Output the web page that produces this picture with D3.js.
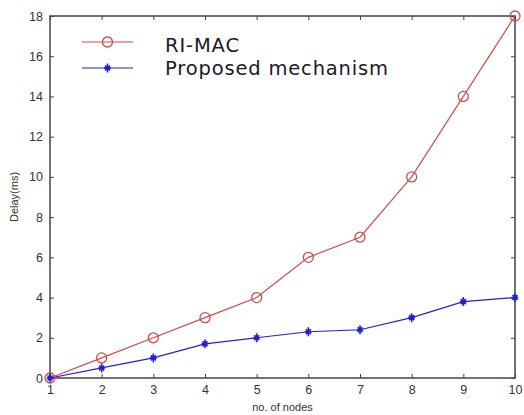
<!DOCTYPE html>
<html>
<head>
<meta charset="utf-8">
<script src="https://cdn.jsdelivr.net/npm/d3@7"></script>
<style>
  body { margin: 0; background: #fff; }
  svg { display: block; font-family: "Liberation Sans", Arial, sans-serif; }
</style>
</head>
<body>
<div id="chart"></div>
<script>
// data
const nodes = [1, 2, 3, 4, 5, 6, 7, 8, 9, 10];
const riMac = [0, 1, 2, 3, 4, 6, 7, 10, 14, 18];
const proposed = [0, 0.5, 1, 1.7, 2, 2.3, 2.4, 3, 3.8, 4];
const yTicks = [0, 2, 4, 6, 8, 10, 12, 14, 16, 18];
const seriesNames = ['RI-MAC', 'Proposed  mechanism'];

const W = 524, H = 415;
const margin = {top: 16, right: 9, bottom: 37, left: 50};
const axisColor = '#444';
const red = '#d24a4a';
const blue = '#2222cc';

const svg = d3.select('#chart').append('svg')
    .attr('width', W)
    .attr('height', H);

const x = d3.scaleLinear().domain([1, 10]).range([margin.left, W - margin.right]);
const y = d3.scaleLinear().domain([0, 18]).range([H - margin.bottom, margin.top]);

// frame
svg.append('rect')
    .attr('x', x(1)).attr('y', y(18))
    .attr('width', x(10) - x(1)).attr('height', y(0) - y(18))
    .attr('fill', 'none').attr('stroke', axisColor).attr('stroke-width', 1.5);

// axes with inward ticks (matlab style)
const styleAxis = g => {
    g.select('.domain').remove();
    g.selectAll('line').attr('stroke', axisColor);
    g.selectAll('text').attr('fill', '#333').style('font-size', '12.5px');
};

svg.append('g')
    .attr('transform', `translate(0,${y(0)})`)
    .call(d3.axisBottom(x).tickValues(nodes).tickSizeInner(-4).tickSizeOuter(0).tickPadding(7).tickFormat(d3.format('d')))
    .call(styleAxis);
svg.append('g')
    .attr('transform', `translate(0,${y(18)})`)
    .call(d3.axisTop(x).tickValues(nodes).tickSizeInner(-4).tickSizeOuter(0).tickFormat(''))
    .call(styleAxis);
svg.append('g')
    .attr('transform', `translate(${x(1)},0)`)
    .call(d3.axisLeft(y).tickValues(yTicks).tickSizeInner(-4).tickSizeOuter(0).tickPadding(7))
    .call(styleAxis);
svg.append('g')
    .attr('transform', `translate(${x(10)},0)`)
    .call(d3.axisRight(y).tickValues(yTicks).tickSizeInner(-4).tickSizeOuter(0).tickFormat(''))
    .call(styleAxis);

// axis titles
svg.append('text')
    .attr('x', (x(1) + x(10)) / 2).attr('y', H - 4)
    .attr('text-anchor', 'middle')
    .attr('fill', '#333').style('font-size', '11px')
    .text('no.  of nodes');
svg.append('text')
    .attr('transform', `translate(18,${(y(0) + y(18)) / 2}) rotate(-90)`)
    .attr('text-anchor', 'middle')
    .attr('fill', '#333').style('font-size', '11px')
    .text('Delay(ms)');

const line = d3.line().x((d, i) => x(nodes[i])).y(d => y(d));

// series lines
svg.append('path').datum(riMac)
    .attr('d', line).attr('fill', 'none')
    .attr('stroke', red).attr('stroke-width', 1.2);
svg.append('path').datum(proposed)
    .attr('d', line).attr('fill', 'none')
    .attr('stroke', blue).attr('stroke-width', 1.2);

// markers
const drawCircle = (g, cx, cy) => {
    g.append('circle').attr('cx', cx).attr('cy', cy).attr('r', 5)
        .attr('fill', 'none').attr('stroke', red).attr('stroke-width', 1.3);
};
const drawStar = (g, cx, cy) => {
    const s = 3.5;
    g.append('path')
        .attr('d', `M${cx - s},${cy}H${cx + s}M${cx},${cy - s - 1}V${cy + s + 1}` +
            `M${cx - 2.5},${cy - 2.5}L${cx + 2.5},${cy + 2.5}M${cx - 2.5},${cy + 2.5}L${cx + 2.5},${cy - 2.5}`)
        .attr('stroke', blue).attr('stroke-width', 1.6);
    g.append('circle').attr('cx', cx).attr('cy', cy).attr('r', 2.2).attr('fill', blue);
};

const marks = svg.append('g');
riMac.forEach((v, i) => drawCircle(marks, x(nodes[i]), y(v)));
proposed.forEach((v, i) => drawStar(marks, x(nodes[i]), y(v)));

// legend
const legend = svg.append('g');
const legendRows = [
    {name: seriesNames[0], color: red, mark: drawCircle, y: 42, ty: 52, len: 74},
    {name: seriesNames[1], color: blue, mark: drawStar, y: 68, ty: 75, len: 223}
];
legendRows.forEach(r => {
    legend.append('line')
        .attr('x1', 82).attr('x2', 133).attr('y1', r.y).attr('y2', r.y)
        .attr('stroke', r.color).attr('stroke-width', 1.2);
    r.mark(legend, 107.5, r.y);
    legend.append('text')
        .attr('x', 165).attr('y', r.ty)
        .attr('fill', '#1a1a2a')
        .attr('textLength', r.len)
        .attr('lengthAdjust', 'spacing')
        .style('font-family', '"DejaVu Sans", sans-serif')
        .style('font-size', '19.5px')
        .text(r.name);
});
</script>
</body>
</html>
